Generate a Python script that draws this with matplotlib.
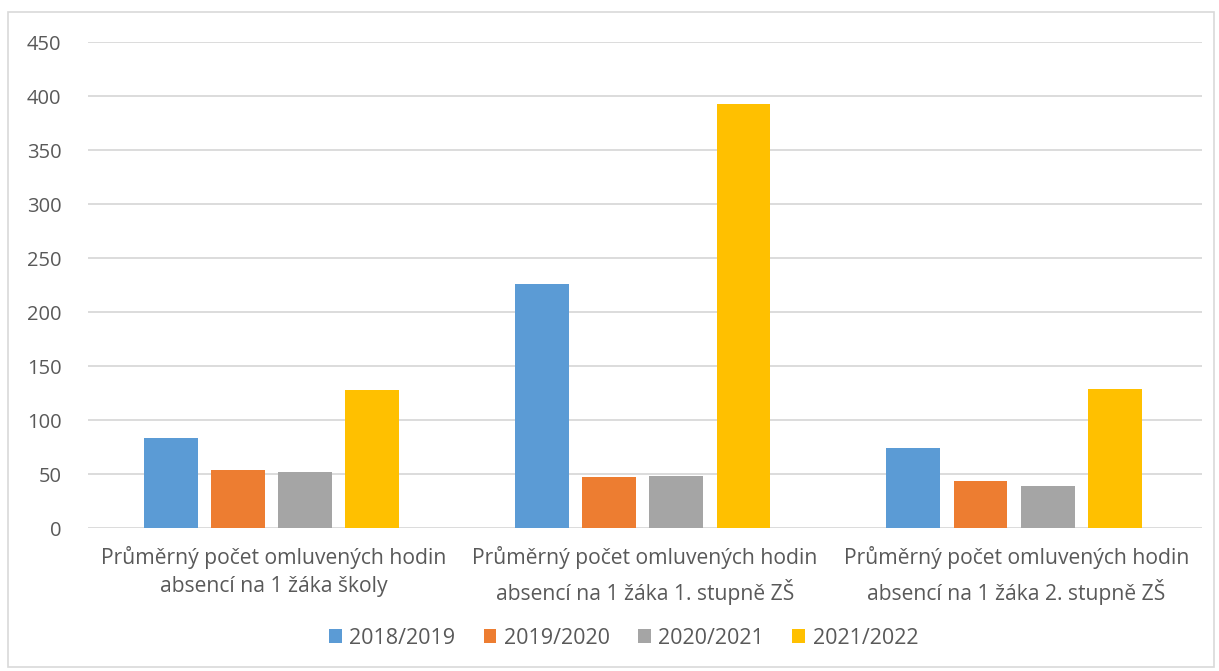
import matplotlib
matplotlib.use("Agg")
import matplotlib.pyplot as plt
import numpy as np
from matplotlib.patches import Rectangle

categories = ["Průměrný počet omluvených hodin\nabsencí na 1 žáka školy",
              "Průměrný počet omluvených hodin\nabsencí na 1 žáka 1. stupně ZŠ",
              "Průměrný počet omluvených hodin\nabsencí na 1 žáka 2. stupně ZŠ"]
series_names = ["2018/2019", "2019/2020", "2020/2021", "2021/2022"]
v2018 = [83.5, 226.3, 74.2]
v2019 = [53.8, 47.6, 43.2]
v2020 = [52.2, 48.5, 39.2]
v2021 = [128.0, 393.0, 128.3]
yticks = [0, 50, 100, 150, 200, 250, 300, 350, 400, 450]
colors = ["#5B9BD5", "#ED7D31", "#A5A5A5", "#FFC000"]

plt.rcParams['font.family'] = ['Open Sans', 'DejaVu Sans']
fig = plt.figure(figsize=(12.19, 6.71), dpi=100)
ax = fig.add_axes([0.0722, 0.2131, 0.9138, 0.7243])

x = np.arange(len(categories))
width = 0.145
step = 0.181
data = [v2018, v2019, v2020, v2021]
for i, (vals, name, c) in enumerate(zip(data, series_names, colors)):
    ax.bar(x + (i - 1.5) * step - 0.006, vals, width, color=c, label=name, zorder=3)

ax.set_xlim(-0.5, 2.5)
ax.set_ylim(0, 450)
ax.set_yticks(yticks)
ax.yaxis.grid(True, color="#D9D9D9", linewidth=1.3, zorder=0)
for s in ax.spines.values():
    s.set_visible(False)
ax.tick_params(axis='both', length=0, colors="#595959", labelsize=14.5)
ax.tick_params(axis='y', pad=19)
ax.set_xticks(x)
ax.set_xticklabels(categories, fontsize=15.2, color="#595959", linespacing=1.45)
ax.tick_params(axis='x', pad=13)

leg = fig.legend(loc='center', bbox_to_anchor=(0.5115, 1 - 638 / 671), ncol=4, frameon=False,
                 fontsize=15.5, handlelength=0.6, handleheight=0.6, columnspacing=1.3,
                 handletextpad=0.35)
for t in leg.get_texts():
    t.set_color("#595959")

fig.patches.append(Rectangle((8 / 1219, 4 / 671), 1206 / 1219, 655 / 671,
                             transform=fig.transFigure, fill=False,
                             edgecolor="#D9D9D9", linewidth=1.2))
fig.savefig("out.png", dpi=100)
